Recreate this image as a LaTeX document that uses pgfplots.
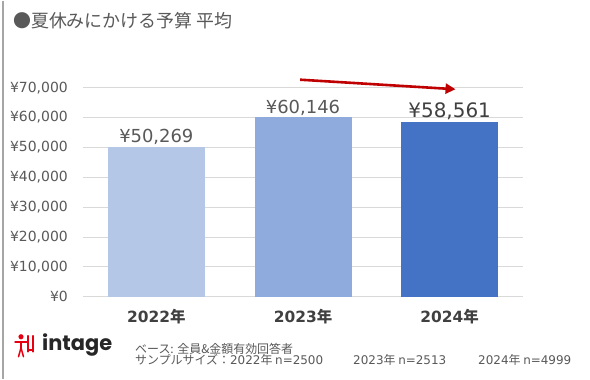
\documentclass[border=0pt]{standalone}
\usepackage{fontspec}
\setmainfont{Noto Sans CJK JP}
\newfontfamily\logofont{Poppins}
\newfontfamily\numfont{DejaVu Sans}
\usepackage{pgfplots}
\usetikzlibrary{arrows.meta}
\pgfplotsset{compat=1.18}
\definecolor{txt}{HTML}{595959}
\definecolor{dtxt}{HTML}{404040}
\definecolor{gridc}{HTML}{D9D9D9}
\definecolor{c22}{HTML}{B4C7E7}
\definecolor{c23}{HTML}{8FAADC}
\definecolor{c24}{HTML}{4472C4}
\definecolor{arr}{HTML}{C00000}
\definecolor{logor}{HTML}{E60012}
\begin{document}
\begin{tikzpicture}[x=1bp,y=1bp]
\path[fill=white] (0,0) rectangle (590,378);
\draw[color=black!35, line width=1.5bp] (3,0) -- (3,378);
\node[anchor=west, text=txt, font=\fontsize{18}{20}\selectfont, inner sep=0] at (13,358) {●夏休みにかける予算 平均};
\begin{axis}[
  at={(83bp,82bp)}, anchor=south west,
  width=440bp, height=209bp, scale only axis,
  xmin=-0.5, xmax=2.5, ymin=0, ymax=70000,
  axis line style={draw=none},
  ytick={0,10000,...,70000},
  xmajorgrids=false, ymajorgrids, grid style={color=gridc, line width=0.9bp},
  major tick length=0,
  xtick={0,1,2}, xticklabels={{\numfont 2022}年,{\numfont 2023}年,{\numfont 2024}年},
  xticklabel style={text=dtxt, font=\fontsize{15.5}{17}\selectfont\bfseries, anchor=base, inner sep=0, yshift=-26bp},
  /pgf/number format/assume math mode=true,
  /pgf/number format/.cd, 1000 sep={,}, /pgfplots/.cd,
  yticklabel={¥\pgfmathprintnumber{\tick}},
  yticklabel style={text=txt, font=\numfont\fontsize{14}{16}\selectfont, inner sep=0, xshift=-15bp},
  scaled y ticks=false,
  ybar, bar width=97bp, bar shift=0pt,
  clip=false,
  nodes near coords={¥\pgfmathprintnumber{\pgfplotspointmeta}},
  nodes near coords style={text=txt, font=\numfont\fontsize{18}{20}\selectfont, anchor=base, inner sep=0, yshift=4bp},
]
\addplot[fill=c22, draw=none] coordinates {(0,50269)};
\addplot[fill=c23, draw=none] coordinates {(1,60146)};
\addplot[fill=c24, draw=none, nodes near coords style={font=\numfont\fontsize{20}{22}\selectfont, text=dtxt}] coordinates {(2,58561)};
\draw[arr, line width=2.6bp, -{Triangle[length=10bp,width=10bp]}] (axis cs:0.98,72700) -- (axis cs:2.04,69500);
\end{axis}
% logo
\begin{scope}[logor, line width=1.5bp, line cap=round]
\fill (21,42) circle (2.6);
\draw (15,37) -- (27,37);
\draw (21,37) -- (21,31);
\draw (21,31) -- (18.5,22);
\draw (21,31) -- (23.5,22);
\draw (28,43) -- (28,27);
\draw (33,43) -- (33,27);
\draw (28,29) -- (33,29);
\end{scope}
\node[anchor=base west, inner sep=0, font=\logofont\bfseries\fontsize{21}{22}\selectfont, text=black!85] at (42,28) {intage};
\node[anchor=west, inner sep=0, text=txt, font=\fontsize{12}{13}\selectfont] at (135,30) {ベース: 全員\&金額有効回答者};
\node[anchor=west, inner sep=0, text=txt, font=\fontsize{12}{13}\selectfont] at (135,19) {サンプルサイズ：{\numfont 2022}年 {\numfont n=2500}};
\node[anchor=west, inner sep=0, text=txt, font=\fontsize{12}{13}\selectfont] at (353,19) {{\numfont 2023}年 {\numfont n=2513}};
\node[anchor=west, inner sep=0, text=txt, font=\fontsize{12}{13}\selectfont] at (478,19) {{\numfont 2024}年 {\numfont n=4999}};
\end{tikzpicture}
\end{document}
